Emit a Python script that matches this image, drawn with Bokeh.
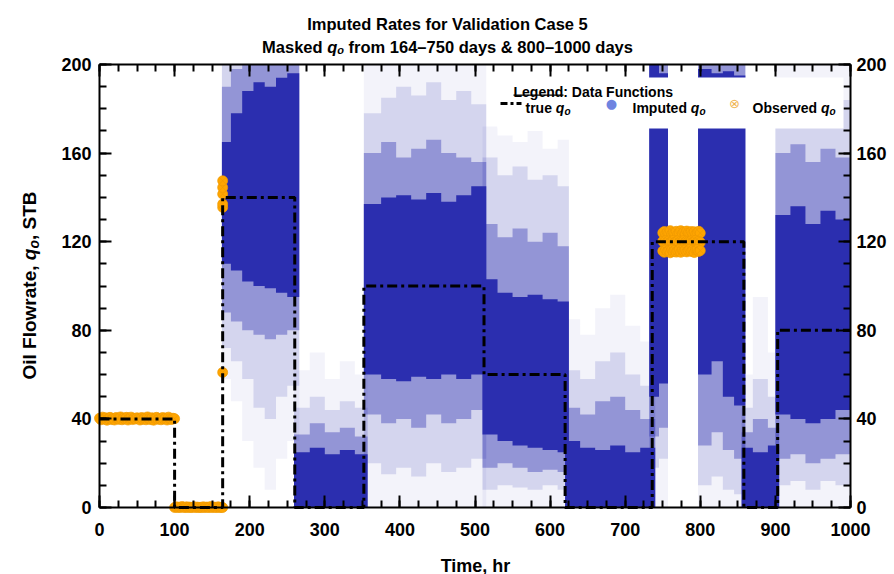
from bokeh.plotting import figure
from bokeh.models import (LinearAxis, SingleIntervalTicker, Label,
                          BoxAnnotation, Arrow, Range1d)
from bokeh.embed import file_html
from bokeh.resources import INLINE
import math

# ---------------- data ----------------
# true q_o (step function, value holds from t[i] to t[i+1])
true_t = [0, 100, 164, 260, 352, 512, 620, 736, 858, 903, 1000]
true_q = [40, 0, 140, 0, 100, 60, 0, 120, 0, 80, 80]

# observed q_o
obs1_t = [0, 2, 4, 6, 8, 10, 12, 14, 16, 18, 20, 22, 24, 26, 28, 30, 32, 34, 36, 38, 40,
          42, 44, 46, 48, 50, 52, 54, 56, 58, 60, 62, 64, 66, 68, 70, 72, 74, 76, 78, 80,
          82, 84, 86, 88, 90, 92, 94, 96, 98, 100]
obs1_q = [40.3, 39.6, 40.8, 39.9, 40.5, 39.4, 40.1, 40.7, 39.7, 40.2, 39.5, 40.6, 40.0,
          39.8, 40.9, 39.6, 40.4, 39.9, 40.7, 39.5, 40.2, 40.8, 39.7, 40.3, 39.9, 40.5,
          40.1, 39.5, 40.6, 39.8, 40.4, 39.6, 40.9, 40.0, 39.7, 40.5, 39.4, 40.3, 40.7,
          39.8, 40.2, 39.6, 40.6, 39.9, 40.4, 39.5, 40.8, 40.0, 39.7, 40.3, 40.1]
obs2_t = [100, 102, 104, 106, 108, 110, 112, 114, 116, 118, 120, 122, 124, 126, 128, 130,
          132, 134, 136, 138, 140, 142, 144, 146, 148, 150, 152, 154, 156, 158, 160, 162, 164]
obs2_q = [0.0, 0.3, 0.0, 0.2, 0.0, 0.4, 0.1, 0.0, 0.3, 0.0, 0.2, 0.0, 0.1, 0.3, 0.0, 0.2, 0.0,
          0.1, 0.0, 0.3, 0.0, 0.2, 0.1, 0.0, 0.4, 0.0, 0.2, 0.1, 0.0, 0.3, 0.0, 0.1, 0.0]
obs3_t = [164, 164, 164, 164, 164, 164]
obs3_q = [61, 135.5, 137, 141.5, 144.5, 147.5]
obs4_t = [750, 752, 754, 756, 758, 760, 762, 764, 766, 768, 770, 772, 774, 776, 778, 780,
          782, 784, 786, 788, 790, 792, 794, 796, 798, 800]
obs4_qa = [124.0, 124.6, 123.6, 124.3, 123.9, 125.0, 123.5, 124.2, 123.8, 124.7, 123.4, 124.0, 125.0,
           123.7, 124.4, 123.5, 124.8, 123.9, 123.6, 124.6, 123.8, 124.5, 123.4, 124.1, 124.7, 123.9]
obs4_qc = [120.2, 119.6, 120.5, 119.9, 120.3, 119.7, 120.1, 120.6, 119.8, 120.0, 120.4, 119.5, 120.2,
           119.9, 120.5, 119.7, 120.3, 120.0, 119.6, 120.4, 119.8, 120.1, 120.6, 119.9, 120.2, 119.7]
obs4_qb = [115.8, 115.2, 116.3, 115.6, 116.0, 115.0, 116.4, 115.5, 116.1, 115.3, 115.9, 116.5, 115.2,
           116.2, 115.7, 116.3, 115.4, 116.0, 116.6, 115.6, 116.2, 115.1, 116.4, 116.5, 115.6, 116.0]

# imputed q_o cloud, read per time bin: outer (faint) .. inner (dense core) envelopes
imp_left = [163, 175, 190, 205, 220, 235, 250,
            259, 280, 300, 320, 340,
            352, 375, 395, 415, 435, 455, 475, 495,
            510, 530, 550, 570, 590, 610,
            620, 640, 660, 680, 700, 720,
            732, 745,
            797, 815, 830, 845,
            855, 870, 890,
            900, 920, 940, 960, 980]
imp_right = [175, 190, 205, 220, 235, 250, 266,
             280, 300, 320, 340, 357,
             375, 395, 415, 435, 455, 475, 495, 515,
             530, 550, 570, 590, 610, 625,
             640, 660, 680, 700, 720, 740,
             745, 757,
             815, 830, 845, 860,
             870, 890, 905,
             920, 940, 960, 980, 1000]
faint_lo = [58, 48, 30, 18, 8, 22, 30,
            0, 0, 0, 0, 0,
            0, 0, 0, 0, 0, 0, 0, 0,
            0, 0, 0, 0, 0, 0,
            0, 0, 0, 0, 0, 0,
            0, 0,
            0, 0, 0, 0,
            0, 0, 0,
            0, 0, 0, 0, 0]
faint_hi = [200, 200, 200, 200, 200, 200, 200,
            62, 70, 58, 66, 60,
            200, 200, 200, 200, 200, 200, 200, 200,
            172, 168, 165, 170, 162, 166,
            85, 78, 90, 96, 82, 75,
            200, 200,
            200, 200, 200, 200,
            60, 95, 70,
            200, 200, 200, 200, 200]
light_lo = [72, 66, 58, 45, 40, 50, 55,
            0, 0, 0, 0, 0,
            20, 15, 18, 14, 20, 16, 18, 22,
            8, 10, 9, 8, 10, 8,
            0, 0, 0, 0, 0, 0,
            18, 22,
            10, 14, 8, 6,
            0, 0, 0,
            10, 12, 8, 12, 10]
light_hi = [200, 200, 200, 200, 200, 200, 200,
            45, 50, 44, 48, 45,
            178, 185, 190, 186, 192, 184, 188, 182,
            158, 150, 154, 148, 150, 145,
            62, 58, 66, 70, 60, 55,
            200, 200,
            200, 200, 200, 200,
            45, 58, 50,
            178, 182, 176, 180, 184]
mid_lo = [88, 84, 80, 78, 76, 78, 80,
          0, 0, 0, 0, 0,
          42, 38, 40, 36, 42, 38, 40, 44,
          18, 20, 18, 16, 17, 16,
          0, 0, 0, 0, 0, 0,
          32, 36,
          28, 34, 26, 22,
          0, 0, 0,
          22, 24, 20, 22, 24]
mid_hi = [190, 198, 200, 200, 200, 200, 200,
          33, 38, 34, 36, 32,
          160, 165, 158, 162, 166, 160, 158, 156,
          128, 122, 126, 120, 124, 118,
          45, 42, 48, 50, 44, 40,
          200, 200,
          200, 200, 200, 200,
          34, 40, 36,
          160, 164, 156, 162, 158]
core_lo = [110, 107, 102, 100, 99, 97, 95,
           0, 0, 0, 0, 0,
           60, 58, 57, 59, 58, 60, 58, 60,
           33, 30, 28, 27, 26, 25,
           0, 0, 0, 0, 0, 0,
           50, 56,
           60, 66, 50, 46,
           0, 0, 0,
           42, 40, 38, 40, 44]
core_hi = [165, 178, 188, 192, 190, 194, 196,
           25, 27, 24, 26, 24,
           137, 140, 141, 139, 142, 138, 141, 145,
           103, 97, 95, 96, 94, 93,
           30, 27, 26, 28, 25, 27,
           200, 196,
           198, 196, 197, 195,
           27, 25, 28,
           132, 136, 128, 134, 130]

x_tick_step = 100
y_tick_step = 40

# ---------------- styling / layout constants ----------------
FONT = "Liberation Sans"
BLUE = "#2B2EAF"
ORANGE = "#FFA500"
ORANGE_LINE = "#F09A00"
W, H = 894, 574
FL, FR, FT, FB = 99, 850, 64, 507   # data box edges in canvas pixels
X0, X1, Y0, Y1 = 0, 1000, 0, 200    # data box extents

# the frame covers the whole canvas; the data box sits inside it
sx = (FR - FL) / (X1 - X0)
sy = (FB - FT) / (Y1 - Y0)
xr = Range1d(X0 - FL / sx, X0 + (W - FL) / sx)
yr = Range1d(Y0 - (H - FB) / sy, Y0 + FB / sy)

p = figure(width=W, height=H, x_range=xr, y_range=yr, title=None,
           output_backend="svg", toolbar_location=None,
           x_axis_location=None, y_axis_location=None, min_border=0)
p.xgrid.visible = False
p.ygrid.visible = False
p.outline_line_color = None
p.background_fill_color = "white"
p.border_fill_color = "white"

xt = SingleIntervalTicker(interval=x_tick_step, num_minor_ticks=4)
yt = SingleIntervalTicker(interval=y_tick_step, num_minor_ticks=4)


def make_axis(ticker, loc, bounds, show_labels, standoff):
    ax = LinearAxis(ticker=ticker, fixed_location=loc, bounds=bounds)
    ax.axis_line_width = 2
    ax.axis_line_color = "black"
    ax.major_tick_in = 12
    ax.major_tick_out = 0
    ax.minor_tick_in = 7
    ax.minor_tick_out = 0
    ax.major_tick_line_width = 2
    ax.minor_tick_line_width = 2
    ax.major_tick_line_color = "black"
    ax.minor_tick_line_color = "black"
    ax.major_label_text_font = FONT
    ax.major_label_text_font_style = "bold"
    ax.major_label_text_font_size = "18px"
    ax.major_label_text_color = "black" if show_labels else None
    ax.major_label_standoff = standoff
    ax.axis_label = None
    return ax


p.add_layout(make_axis(xt, Y0, (X0, X1), True, 15), "below")
p.add_layout(make_axis(xt, Y1, (X0, X1), False, 0), "above")
p.add_layout(make_axis(yt, X0, (Y0, Y1), True, 8), "left")
p.add_layout(make_axis(yt, X1, (Y0, Y1), True, 6), "right")

# ---------------- imputed cloud (layered density envelopes) ----------------
groups = []
start = 0
for i in range(1, len(imp_left) + 1):
    if i == len(imp_left) or imp_left[i] != imp_right[i - 1]:
        groups.append((start, i))
        start = i

layers = [(faint_lo, faint_hi, 0.06), (light_lo, light_hi, 0.15),
          (mid_lo, mid_hi, 0.38), (core_lo, core_hi, 1.0)]
for lo, hi, a in layers:
    for s, e in groups:
        xs = imp_left[s:e] + [imp_right[e - 1]]
        y1 = lo[s:e] + [lo[e - 1]]
        y2 = hi[s:e] + [hi[e - 1]]
        p.varea_step(x=xs, y1=y1, y2=y2, step_mode="after",
                     fill_color=BLUE, fill_alpha=a)

# ---------------- observed ----------------
for tt, qq in [(obs1_t, obs1_q), (obs2_t, obs2_q), (obs3_t, obs3_q),
               (obs4_t, obs4_qa), (obs4_t, obs4_qc), (obs4_t, obs4_qb)]:
    p.scatter(tt, qq, marker="circle_x", size=10, fill_color=ORANGE,
              line_color=ORANGE_LINE, line_alpha=0.7, line_width=1)

# ---------------- true q_o ----------------
p.step(true_t, true_q, mode="after", line_color="black", line_width=3, line_dash="10 4 3 4")


# ---------------- text helpers (canvas px from top-left -> screen units) ----------------
def lab(text, X, Y, size, style="bold", align="left", baseline="alphabetic",
        angle=0.0, color="black", font=FONT):
    p.add_layout(Label(x=X, y=H - Y, x_units="screen", y_units="screen",
                       text=text, text_font=font, text_font_size=f"{size}px",
                       text_font_style=style, text_align=align, text_baseline=baseline,
                       angle=angle, text_color=color))


def box(l, r, t, b, color):
    p.add_layout(BoxAnnotation(left=l, right=r, top=H - t, bottom=H - b,
                               left_units="screen", right_units="screen",
                               top_units="screen", bottom_units="screen",
                               fill_color=color, fill_alpha=1.0, line_color=None))


# title (16.5px bold); second line assembled from pieces for the italic subscripted q
TS = 16.5
lab("Imputed Rates for Validation Case 5", 447, 23, TS, align="center")
w_masked = 3.668 * TS
w_space = 0.278 * TS
w_q = 0.611 * TS
w_sub = 0.611 * 11
w_rest = 17.232 * TS
x_start = 447 - (w_masked + w_space + w_q + w_sub + w_space + w_rest) / 2
lab("Masked", x_start, 46, TS)
lab("q", x_start + w_masked + w_space, 46, TS, style="bold italic")
lab("o", x_start + w_masked + w_space + w_q, 49.5, 11, style="bold italic")
lab("from 164\u2013750 days & 800\u20131000 days",
    x_start + w_masked + 2 * w_space + w_q + w_sub, 46, TS)

# x axis label
lab("Time, hr", 475, 565, 18, align="center")

# y axis label (rotated, reading bottom to top), 19px
YS = 19
YSUB = 14
ya = math.pi / 2
yb = 29
w1 = 6.004 * YS
wsp = 0.278 * YS
wq = 0.611 * YS
wo = 0.611 * YSUB
w3 = 2.556 * YS
y_start = 285 + (w1 + wsp + wq + wo + w3) / 2
lab("Oil Flowrate,", yb, y_start, YS, angle=ya)
lab("q", yb, y_start - w1 - wsp, YS, style="bold italic", angle=ya)
lab("o", yb + 4.5, y_start - w1 - wsp - wq, YSUB, style="bold italic", angle=ya)
lab(", STB", yb, y_start - w1 - wsp - wq - wo, YS, angle=ya)

# legend
box(497, 843, 77, 128, "white")
lab("Legend", 513, 91, 14)
box(513, 563, 94, 95.3, "black")
lab(": Data Functions", 562.8, 91, 14)
p.add_layout(Arrow(end=None, x_start=500, y_start=H - 103, x_end=521, y_end=H - 103,
                   start_units="screen", end_units="screen", line_width=3,
                   line_dash="7 3 3 3", line_color="black"))
lab("true", 525, 107.5, 14)
lab("q", 555.3, 107.5, 14, style="bold italic")
lab("o", 563.9, 110.5, 10, style="bold italic")
lab("\u25cf", 611, 103, 13, style="normal", align="center", baseline="middle",
    color="#6E84E0", font="DejaVu Sans")
lab("Imputed", 632, 107.5, 14)
lab("q", 690.3, 107.5, 14, style="bold italic")
lab("o", 698.9, 110.5, 10, style="bold italic")
lab("\u2297", 734, 103, 13, style="normal", align="center", baseline="middle",
    color="#F0B450", font="DejaVu Sans")
lab("Observed", 752, 107.5, 14)
lab("q", 820.5, 107.5, 14, style="bold italic")
lab("o", 829.1, 110.5, 10, style="bold italic")

open("out.html", "w").write(file_html(p, INLINE))
